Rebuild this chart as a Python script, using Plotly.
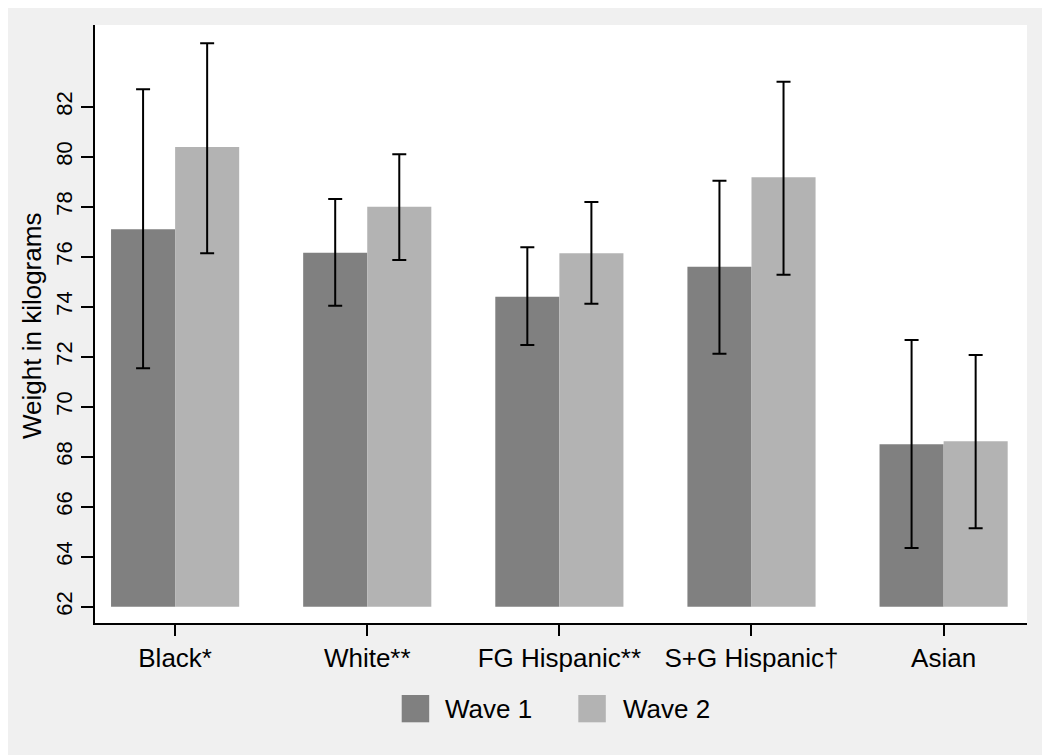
import plotly.graph_objects as go

categories = ["Black*", "White**", "FG Hispanic**", "S+G Hispanic\u2020", "Asian"]
wave1 = [77.10, 76.16, 74.40, 75.60, 68.50]
wave1_upper = [82.70, 78.31, 76.38, 79.04, 72.67]
wave1_lower = [71.54, 74.04, 72.47, 72.12, 64.35]
wave2 = [80.39, 78.00, 76.14, 79.18, 68.62]
wave2_upper = [84.54, 80.10, 78.19, 83.00, 72.07]
wave2_lower = [76.14, 75.87, 74.12, 75.28, 65.14]
y_ticks = list(range(62, 84, 2))
series_names = ["Wave 1", "Wave 2"]
colors = ["#808080", "#b3b3b3"]
BASE = 62

FONT = "Arial, Liberation Sans, sans-serif"

fig = go.Figure()
for name, vals, up, lo, col in [
    (series_names[0], wave1, wave1_upper, wave1_lower, colors[0]),
    (series_names[1], wave2, wave2_upper, wave2_lower, colors[1]),
]:
    fig.add_trace(go.Bar(
        x=categories,
        y=[v - BASE for v in vals],
        base=BASE,
        name=name,
        marker=dict(color=col, line=dict(width=0)),
        error_y=dict(
            type="data", symmetric=False,
            array=[u - v for u, v in zip(up, vals)],
            arrayminus=[v - l for v, l in zip(vals, lo)],
            color="black", thickness=2, width=7,
        ),
        showlegend=False,
    ))

# page body offsets the figure by 8px; target screen-space plot area: x 95..1027, y 25..623
OFF = 8
W, H = 1050, 755
SX0, SX1, SY0, SY1 = 95, 1027, 25, 623
L, T = SX0 - OFF, SY0 - OFF
R, B = W - (SX1 - OFF), H - (SY1 - OFF)
pw, ph = SX1 - SX0, SY1 - SY0

def px(x):
    return (x - SX0) / pw

def py(y):
    return (SY1 - y) / ph

shapes = []
annotations = []
legend_items = [(401.7, 445, series_names[0], colors[0]), (578.3, 623, series_names[1], colors[1])]
for sx, tx, name, col in legend_items:
    shapes.append(dict(type="rect", xref="paper", yref="paper",
                       x0=px(sx), x1=px(sx + 27.5), y0=py(722.3), y1=py(695),
                       fillcolor=col, line=dict(width=0)))
    annotations.append(dict(xref="paper", yref="paper", x=px(tx - 2), y=py(709),
                            text=name, showarrow=False, xanchor="left", yanchor="middle",
                            font=dict(family=FONT, size=26, color="black")))

annotations.append(dict(xref="paper", yref="paper", x=px(32), y=py(326),
                        text="Weight in kilograms", textangle=-90, showarrow=False,
                        xanchor="center", yanchor="middle",
                        font=dict(family=FONT, size=26, color="black")))

fig.update_layout(
    width=W, height=H,
    margin=dict(l=L, r=R, t=T, b=B, autoexpand=False),
    paper_bgcolor="#f0f0f0",
    plot_bgcolor="white",
    barmode="group",
    bargap=0.333,
    bargroupgap=0,
    shapes=shapes,
    annotations=annotations,
    font=dict(family=FONT, color="black"),
)
fig.update_xaxes(
    range=[-0.417, 4.434],
    automargin=False,
    showline=True, linecolor="black", linewidth=1.5,
    ticks="outside", ticklen=11, tickcolor="black", tickwidth=1.5,
    tickfont=dict(size=26, family=FONT, color="black"),
    showgrid=False, zeroline=False,
)
fig.update_yaxes(
    range=[61.35, 85.27],
    automargin=False,
    tickvals=y_ticks,
    ticktext=[str(t) for t in y_ticks],
    tickangle=-90,
    showline=True, linecolor="black", linewidth=1.5,
    ticks="outside", ticklen=12, tickcolor="black", tickwidth=1.5,
    tickfont=dict(size=22, family=FONT, color="black"),
    showgrid=False, zeroline=False,
)

fig.write_html("out.html")
